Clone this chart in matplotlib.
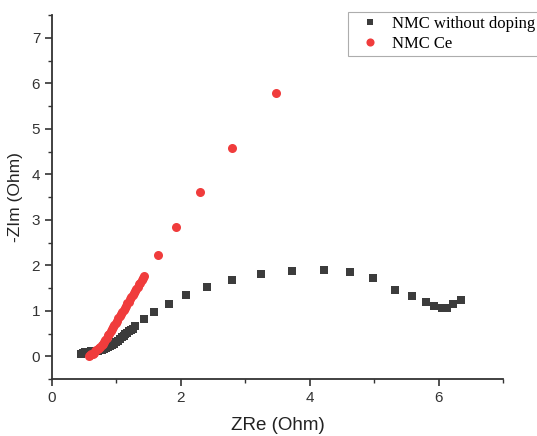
import numpy as np
import matplotlib
matplotlib.use("Agg")
import matplotlib.pyplot as plt
from matplotlib.ticker import MultipleLocator

# NMC without doping (dense low-frequency part, then sparse arc)
zre_plain = [0.45, 0.48, 0.51, 0.54, 0.57, 0.60, 0.63, 0.66, 0.69, 0.72,
             0.75, 0.78, 0.81, 0.84, 0.87, 0.90, 0.93, 0.96, 0.99, 1.02,
             1.05, 1.08, 1.11, 1.14, 1.17, 1.20, 1.23, 1.26,
             1.29, 1.43, 1.59, 1.81, 2.08, 2.41, 2.80, 3.25, 3.73, 4.22,
             4.63, 4.98, 5.32, 5.59, 5.80, 5.93, 6.06, 6.13, 6.23, 6.35]
zim_plain = [0.06, 0.08, 0.09, 0.10, 0.10, 0.11, 0.11, 0.11, 0.12, 0.12,
             0.13, 0.14, 0.16, 0.18, 0.20, 0.22, 0.25, 0.28, 0.31, 0.34,
             0.38, 0.42, 0.45, 0.49, 0.52, 0.55, 0.58, 0.61,
             0.66, 0.81, 0.97, 1.15, 1.34, 1.52, 1.68, 1.80, 1.88, 1.89,
             1.86, 1.72, 1.45, 1.32, 1.19, 1.10, 1.07, 1.06, 1.14, 1.24]

# NMC Ce
zre_ce = [0.57, 0.59, 0.61, 0.63, 0.65, 0.67, 0.69, 0.71, 0.73, 0.75,
          0.77, 0.79, 0.81, 0.83, 0.85, 0.87, 0.89, 0.91, 0.93, 0.95,
          0.97, 0.99, 1.01, 1.03, 1.05, 1.07, 1.09, 1.11, 1.13, 1.15,
          1.17, 1.19, 1.21, 1.23, 1.25, 1.27, 1.29, 1.31, 1.33, 1.35,
          1.37, 1.39, 1.41, 1.43,
          1.64, 1.93, 2.29, 2.80, 3.48]
zim_ce = [0.00, 0.02, 0.04, 0.06, 0.08, 0.11, 0.13, 0.16, 0.19, 0.21,
          0.24, 0.28, 0.32, 0.36, 0.41, 0.46, 0.50, 0.55, 0.60, 0.64,
          0.69, 0.74, 0.78, 0.83, 0.88, 0.92, 0.97, 1.02, 1.06, 1.11,
          1.16, 1.20, 1.25, 1.30, 1.34, 1.39, 1.44, 1.48, 1.53, 1.58,
          1.62, 1.67, 1.71, 1.76,
          2.22, 2.83, 3.61, 4.58, 5.78]

plt.rcParams['font.family'] = ['Liberation Sans', 'DejaVu Sans']

fig = plt.figure(figsize=(5.37, 4.36), dpi=100)
ax = fig.add_axes([0.0968, 0.1307, 0.8399, 0.8349])

ax.plot(zre_plain, zim_plain, 's', color='#3c3c3c', markersize=5.5,
        markeredgewidth=0, label='NMC without doping')
ax.plot(zre_ce, zim_ce, 'o', color='#f03c3c', markersize=6.5,
        markeredgewidth=0, label='NMC Ce')

ax.set_xlim(0, 7)
ax.set_ylim(-0.5, 7.5)
ax.xaxis.set_major_locator(MultipleLocator(2))
ax.xaxis.set_minor_locator(MultipleLocator(1))
ax.yaxis.set_major_locator(MultipleLocator(1))
ax.yaxis.set_minor_locator(MultipleLocator(0.5))

for s in ['top', 'right']:
    ax.spines[s].set_visible(False)
for s in ['left', 'bottom']:
    ax.spines[s].set_linewidth(1.3)
    ax.spines[s].set_color('#333333')

ax.tick_params(which='major', direction='out', length=5, width=1.2,
               labelsize=11, colors='#333333')
ax.tick_params(which='minor', direction='out', length=3, width=1.0,
               colors='#333333')

ax.set_xlabel('ZRe (Ohm)', fontsize=13.5, color='#222222', labelpad=9)
ax.set_ylabel('-ZIm (Ohm)', fontsize=12.5, color='#222222', labelpad=6)

leg = fig.legend(loc='upper left', bbox_to_anchor=(348 / 537, 1 - 12 / 436),
                 prop={'family': 'Liberation Serif', 'size': 12},
                 frameon=True, fancybox=False, edgecolor='#999999',
                 borderpad=0.25, handletextpad=0.3, labelspacing=0.2,
                 handlelength=2.1, borderaxespad=0, markerscale=0.9)
leg.get_frame().set_linewidth(0.8)

fig.savefig('out.png', dpi=100)
